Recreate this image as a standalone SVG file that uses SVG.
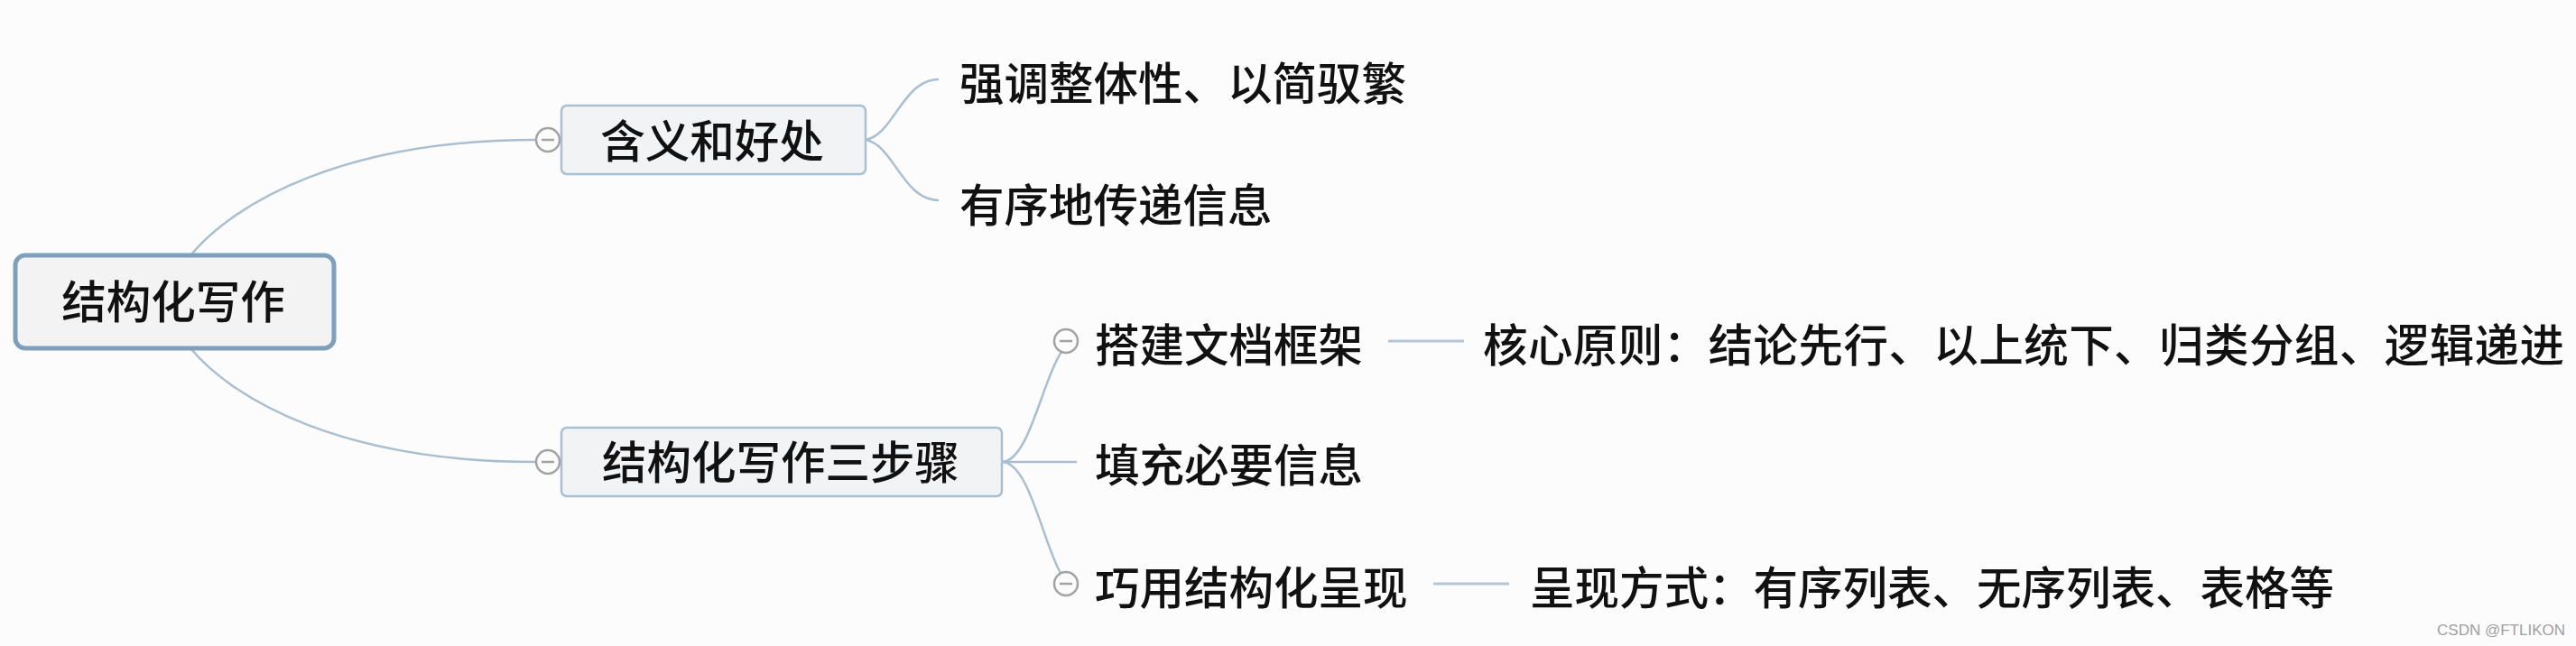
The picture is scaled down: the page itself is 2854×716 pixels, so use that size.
<svg xmlns="http://www.w3.org/2000/svg" width="2854" height="716" viewBox="0 0 2854 716">
<style>
.t{font-family:"Noto Sans CJK SC","Noto Sans",sans-serif;font-size:49.5px;font-weight:500;fill:#111111}
.c{fill:none;stroke:#a9bfd1;stroke-width:2.5}
.d{fill:none;stroke:#b3c6d6;stroke-width:3}
.btn{fill:#fbfbfb;stroke:#a3a3a3;stroke-width:2.5}
.mn{stroke:#a3a3a3;stroke-width:2.5}
.box{fill:#f2f3f5;stroke:#a9c0d3;stroke-width:2.5}
</style>
<rect width="2854" height="716" fill="#fcfcfd"/>
<g id="connectors">
<path class="c" d="M212,282 C260,225 380,155 594,155"/>
<path class="c" d="M212,387 C260,444 380,512 594,512"/>
<path class="c" d="M959,155 C990,150 1000,88 1040,88"/>
<path class="c" d="M959,155 C990,160 1000,222 1040,222"/>
<path class="c" d="M1110,512 C1140,512 1155,420 1176,390"/>
<path class="c" d="M1110,512 L1193,512"/>
<path class="c" d="M1110,512 C1140,512 1155,600 1175,635"/>
<path class="d" d="M1538,378 L1622,378"/>
<path class="d" d="M1588,647 L1672,647"/>
</g>
<g id="root">
<rect x="17" y="283" width="353" height="103" rx="11" fill="#f3f3f4" stroke="#7f9fba" stroke-width="5"/>
<text class="t" x="192" y="353" text-anchor="middle">结构化写作</text>
</g>
<g id="n-meaning">
<rect class="box" x="622" y="117" width="337" height="76" rx="6"/>
<text class="t" x="789" y="175" text-anchor="middle">含义和好处</text>
<circle class="btn" cx="607" cy="155" r="13"/>
<line class="mn" x1="600" y1="155" x2="614" y2="155"/>
</g>
<g id="n-steps">
<rect class="box" x="622" y="474" width="488" height="76" rx="6"/>
<text class="t" x="865" y="531" text-anchor="middle">结构化写作三步骤</text>
<circle class="btn" cx="607" cy="512" r="13"/>
<line class="mn" x1="600" y1="512" x2="614" y2="512"/>
</g>
<g id="n-emphasis">
<text class="t" x="1063" y="111">强调整体性、以简驭繁</text>
</g>
<g id="n-orderly">
<text class="t" x="1063" y="246">有序地传递信息</text>
</g>
<g id="n-frame">
<circle class="btn" cx="1181" cy="378" r="13"/>
<line class="mn" x1="1174" y1="378" x2="1188" y2="378"/>
<text class="t" x="1213" y="401">搭建文档框架</text>
</g>
<g id="n-principle">
<text class="t" x="1643" y="401" textLength="1198" lengthAdjust="spacing">核心原则：结论先行、以上统下、归类分组、逻辑递进</text>
</g>
<g id="n-fill">
<text class="t" x="1213" y="534">填充必要信息</text>
</g>
<g id="n-present">
<circle class="btn" cx="1181" cy="647" r="13"/>
<line class="mn" x1="1174" y1="647" x2="1188" y2="647"/>
<text class="t" x="1213" y="670">巧用结构化呈现</text>
</g>
<g id="n-ways">
<text class="t" x="1695" y="670">呈现方式：有序列表、无序列表、表格等</text>
</g>
<text x="2842" y="704" text-anchor="end" font-family="Liberation Sans, sans-serif" font-size="17" fill="#a0a0a0">CSDN @FTLIKON</text>
</svg>
